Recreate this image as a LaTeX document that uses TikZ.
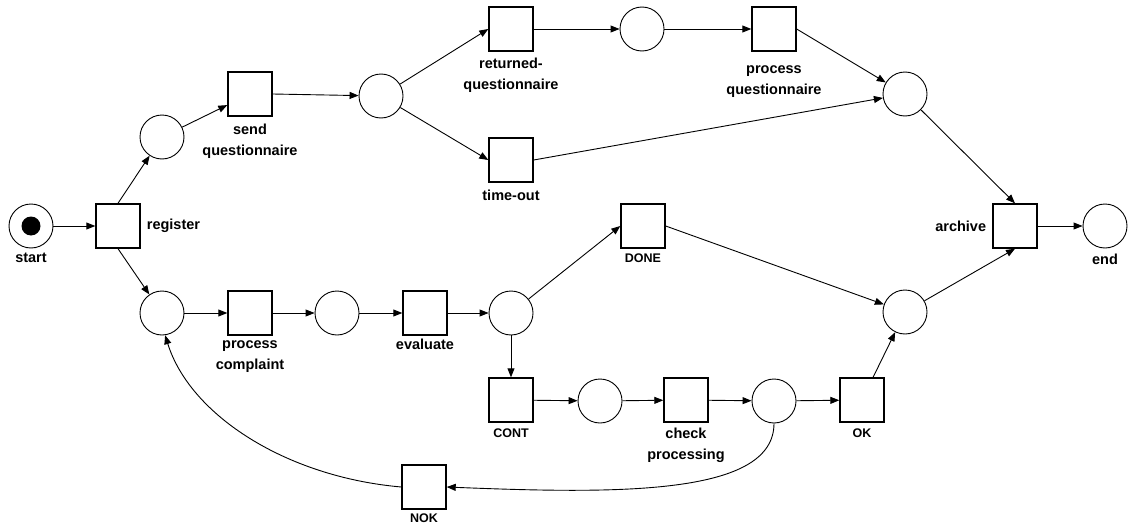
\documentclass[tikz,border=0pt]{standalone}
\usepackage{fontspec}
\setmainfont{Liberation Sans}
\usetikzlibrary{arrows.meta}

\begin{document}
\begin{tikzpicture}[x=1pt, y=-1pt,
    place/.style = {shape=circle, draw, minimum size=44pt,
      inner sep=0pt, line width=0.9pt},
    trans/.style = {shape=rectangle, draw, minimum size=44pt,
      inner sep=0pt, line width=1.4pt},
    lbl/.style = {font=\bfseries\fontsize{14.5}{21}\selectfont,
      align=center, inner sep=1pt},
    slbl/.style = {font=\bfseries\fontsize{12.5}{15}\selectfont,
      inner sep=1pt},
    arc/.style = {-{Triangle[length=9pt,width=7pt]}, line width=0.9pt}]
    \useasboundingbox (0,0) rectangle (1128,530);

    \node[place, label={[lbl,label distance=3pt]below:start}] (start) at (31,226) {};
    \fill (start.center) circle[radius=9.5pt];
    \node[trans, label={[lbl,label distance=5pt]right:register}] (register) at (118,226) {};
    \node[place] (p1) at (162,137) {};
    \node[trans, label={[lbl,label distance=6pt]below:send\\questionnaire}] (send) at (250,94) {};
    \node[place] (p2) at (381,96) {};
    \node[trans, label={[lbl,label distance=5pt]below:returned-\\questionnaire}] (returned) at (511,29) {};
    \node[place] (p3) at (642,29) {};
    \node[trans, label={[lbl,label distance=13pt]below:process\\questionnaire}] (procq) at (774,29) {};
    \node[trans, label={[lbl,label distance=6pt]below:time-out}] (timeout) at (511,160) {};
    \node[place] (p4) at (905,94) {};
    \node[trans, label={[lbl,label distance=5pt]left:archive}] (archive) at (1015,226) {};
    \node[place, label={[lbl,label distance=4pt]below:end}] (end) at (1105,226) {};

    \node[place] (p5) at (162,313) {};
    \node[trans, label={[lbl,label distance=4pt]below:process\\complaint}] (procc) at (250,313) {};
    \node[place] (p6) at (337,313) {};
    \node[trans, label={[lbl,label distance=2pt]below:evaluate}] (evaluate) at (425,313) {};
    \node[place] (p7) at (511,313) {};
    \node[trans, label={[slbl,label distance=4pt]below:DONE}] (done) at (643,226) {};
    \node[place] (p8) at (905,312) {};
    \node[trans, label={[slbl,label distance=5pt]below:CONT}] (cont) at (511,400) {};
    \node[place] (p9) at (600,401) {};
    \node[trans, label={[lbl,label distance=4pt]below:check\\processing}] (check) at (686,400) {};
    \node[place] (p10) at (774,401) {};
    \node[trans, label={[slbl,label distance=5pt]below:OK}] (ok) at (862,400) {};
    \node[trans, label={[slbl,label distance=3pt]below:NOK}] (nok) at (424,487) {};

    \draw[arc] (start) -- (register);
    \draw[arc] (register.north) -- (p1);
    \draw[arc] (p1) -- (send);
    \draw[arc] (send.east) -- (p2);
    \draw[arc] (p2) -- (returned.west);
    \draw[arc] (p2) -- (timeout.west);
    \draw[arc] (returned.east) -- (p3);
    \draw[arc] (p3) -- (procq);
    \draw[arc] (procq.east) -- (p4);
    \draw[arc] (timeout.east) -- (p4);
    \draw[arc] (p4) -- (archive.north);
    \draw[arc] (archive.east) -- (end);
    \draw[arc] (register.south) -- (p5);
    \draw[arc] (p5) -- (procc);
    \draw[arc] (procc) -- (p6);
    \draw[arc] (p6) -- (evaluate);
    \draw[arc] (evaluate) -- (p7);
    \draw[arc] (p7) -- (done.west);
    \draw[arc] (p7) -- (cont);
    \draw[arc] (done.east) -- (p8);
    \draw[arc] (p8) -- (archive.south);
    \draw[arc] (cont) -- (p9);
    \draw[arc] (p9) -- (check);
    \draw[arc] (check) -- (p10);
    \draw[arc] (p10) -- (ok);
    \draw[arc] (ok) -- (p8);
    \draw[arc] (p10.south) .. controls +(0,72) and +(173,7) .. (nok.east);
    \draw[arc] (nok.west) .. controls +(-115,-10) and +(25,80) .. (p5.-82);
  \end{tikzpicture}
\end{document}
